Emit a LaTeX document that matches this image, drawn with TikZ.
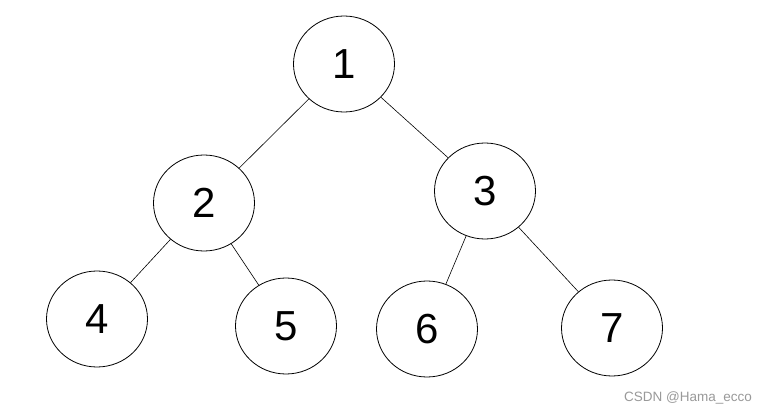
\documentclass[tikz,border=0pt]{standalone}
\usepackage{fontspec}
\setmainfont{Liberation Sans}
\usetikzlibrary{shapes.geometric}
\begin{document}
\begin{tikzpicture}[x=1pt,y=-1pt,
  vert/.style={draw=black,line width=0.8pt,ellipse,minimum width=101pt,minimum height=96pt,inner sep=0pt,font=\fontsize{42}{42}\selectfont},
  edge/.style={draw=black,line width=0.6pt}]
\useasboundingbox[fill=white] (0,0) rectangle (768,414);
\node[vert] (n1) at (344,64) {1};
\node[vert] (n2) at (204,203) {2};
\node[vert] (n3) at (485,191) {3};
\node[vert] (n4) at (97,319) {4};
\node[vert] (n5) at (286,326) {5};
\node[vert] (n6) at (427,329) {6};
\node[vert] (n7) at (612,328) {7};
\draw[edge] (n1) -- (n2);
\draw[edge] (n1) -- (n3);
\draw[edge] (n2) -- (n4);
\draw[edge] (n2) -- (n5);
\draw[edge] (n3) -- (n6);
\draw[edge] (n3) -- (n7);
\node[anchor=east,text=black!40,font=\fontsize{13.5}{13.5}\selectfont,inner sep=0pt] (wm) at (752,398) {CSDN @Hama\_ecco};
\end{tikzpicture}
\end{document}
